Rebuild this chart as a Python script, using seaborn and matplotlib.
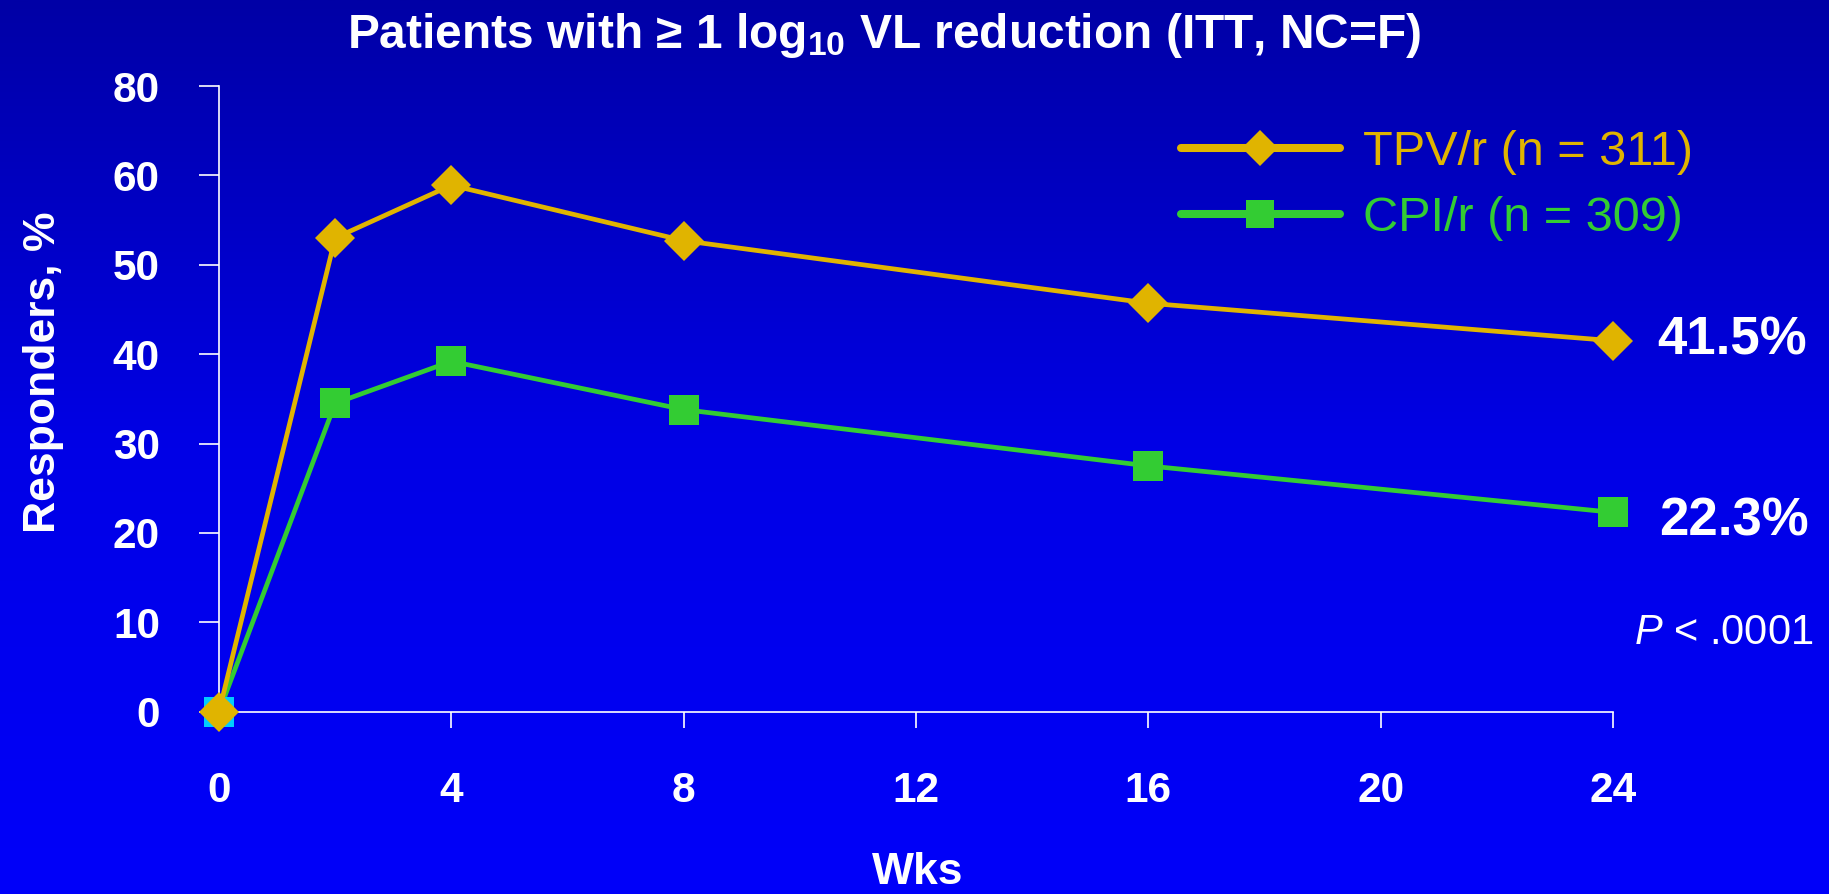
import numpy as np
import pandas as pd
import matplotlib
matplotlib.use("Agg")
import matplotlib.pyplot as plt
import seaborn as sns
from matplotlib.lines import Line2D

# Responders (%) with >= 1 log10 viral-load reduction, by week
weeks = [0, 2, 4, 8, 16, 24]
tpv_pct = [0, 53.0, 58.9, 52.7, 45.7, 41.5]
cpi_pct = [0, 34.5, 39.2, 33.8, 27.5, 22.3]
arm_labels = ["TPV/r (n = 311)", "CPI/r (n = 309)"]
final_labels = ["41.5%", "22.3%"]
x_ticks = [0, 4, 8, 12, 16, 20, 24]
# evenly spaced y ticks; the top slot is labelled 80 (broken scale)
y_tick_labels = ["0", "10", "20", "30", "40", "50", "60", "80"]

GOLD = "#E0B400"
GREEN = "#33CC33"
CYAN = "#00CCFF"
WHITE = "white"

sns.set_theme(style="ticks")
plt.rcParams["font.family"] = ["Liberation Sans", "DejaVu Sans"]
plt.rcParams["mathtext.fontset"] = "custom"
plt.rcParams["mathtext.rm"] = "Liberation Sans"
plt.rcParams["mathtext.it"] = "Liberation Sans:italic"
plt.rcParams["mathtext.bf"] = "Liberation Sans:bold"

df = pd.DataFrame({
    "week": weeks * 2,
    "pct": tpv_pct + cpi_pct,
    "arm": [arm_labels[0]] * len(weeks) + [arm_labels[1]] * len(weeks),
})

W, H = 1829, 894
fig = plt.figure(figsize=(W / 100, H / 100), dpi=100)

# blue vertical gradient background
bg = fig.add_axes([0, 0, 1, 1], zorder=-5)
t = np.linspace(0, 1, 256)
blue = np.interp(t, [0, 0.5, 1], [166, 230, 250]) / 255
grad = np.zeros((256, 1, 3))
grad[:, 0, 2] = blue
bg.imshow(grad, aspect="auto", extent=[0, 1, 0, 1], interpolation="bilinear")
bg.axis("off")

ax = fig.add_axes([219 / W, 1 - 711.7 / H, (1613 - 219) / W, (711.7 - 86) / H])
ax.patch.set_alpha(0)

cpi_df = df[df["arm"] == arm_labels[1]]
tpv_df = df[df["arm"] == arm_labels[0]]

sns.lineplot(data=cpi_df, x="week", y="pct", color=GREEN, marker="s",
             markersize=21, markeredgewidth=0, linewidth=3.4,
             clip_on=False, zorder=3, ax=ax, legend=False)
sns.scatterplot(x=cpi_df["week"].iloc[:1], y=cpi_df["pct"].iloc[:1],
                marker="s", s=21 ** 2, color=CYAN, linewidth=0,
                clip_on=False, zorder=4, ax=ax, legend=False)
sns.lineplot(data=tpv_df, x="week", y="pct", color=GOLD, marker="D",
             markersize=20.5, markeredgewidth=0, linewidth=3.4,
             clip_on=False, zorder=5, ax=ax, legend=False)

ax.set_xlim(0, 24)
ax.set_ylim(0, 10 * (len(y_tick_labels) - 1))
ax.set_xticks(x_ticks)
ax.set_xticklabels([str(v) for v in x_ticks])
ax.set_yticks([10 * i for i in range(len(y_tick_labels))])
ax.set_yticklabels(y_tick_labels)
ax.set_xlabel("")
ax.set_ylabel("")

for side in ("top", "right"):
    ax.spines[side].set_visible(False)
for side in ("left", "bottom"):
    ax.spines[side].set_color(WHITE)
    ax.spines[side].set_linewidth(1.2)

ax.tick_params(axis="y", length=14.5, width=1.2, color=WHITE, pad=28,
               labelsize=30.5, labelcolor=WHITE)
ax.tick_params(axis="x", length=11.5, width=1.2, color=WHITE, pad=31,
               labelsize=30.5, labelcolor=WHITE)
for lab in ax.get_xticklabels() + ax.get_yticklabels():
    lab.set_fontweight("bold")

# end-of-study values
ax.annotate(final_labels[0], xy=(weeks[-1], tpv_pct[-1]), xytext=(32, -10),
            textcoords="offset points", ha="left", va="baseline",
            fontsize=38, fontweight="bold", color=WHITE, annotation_clip=False)
ax.annotate(final_labels[1], xy=(weeks[-1], cpi_pct[-1]), xytext=(33, -17),
            textcoords="offset points", ha="left", va="baseline",
            fontsize=38, fontweight="bold", color=WHITE, annotation_clip=False)

fig.text(1813 / W, 1 - 644 / H, r"$\it{P}$ < .0001", ha="right", va="baseline",
         fontsize=30, color=WHITE)

# legend
handles = [
    Line2D([], [], color=GOLD, lw=5.8, marker="D", markersize=18, markeredgewidth=0),
    Line2D([], [], color=GREEN, lw=5.8, marker="s", markersize=19.5, markeredgewidth=0),
]
leg = fig.legend(handles, arm_labels, loc="center left",
                 bbox_to_anchor=(1181 / W, 1 - 185.5 / H),
                 bbox_transform=fig.transFigure, frameon=False,
                 fontsize=35, handlelength=3.27, handletextpad=0.48,
                 labelspacing=0.43, borderpad=0, borderaxespad=0)
for txt, col in zip(leg.get_texts(), [GOLD, GREEN]):
    txt.set_color(col)

fig.text(884 / W, 1 - 47.5 / H,
         r"Patients with ≥ 1 log$_{\mathbf{10}}$ VL reduction (ITT, NC=F)",
         ha="center", va="baseline", fontsize=34.5, fontweight="bold", color=WHITE)
fig.text(44 / W, 1 - 372 / H, "Responders, %", rotation=90, ha="center",
         va="center", fontsize=32, fontweight="bold", color=WHITE)
fig.text(918 / W, 1 / H, "Wks", ha="center", va="bottom",
         fontsize=32, fontweight="bold", color=WHITE)

fig.savefig("out.png", dpi=100)
